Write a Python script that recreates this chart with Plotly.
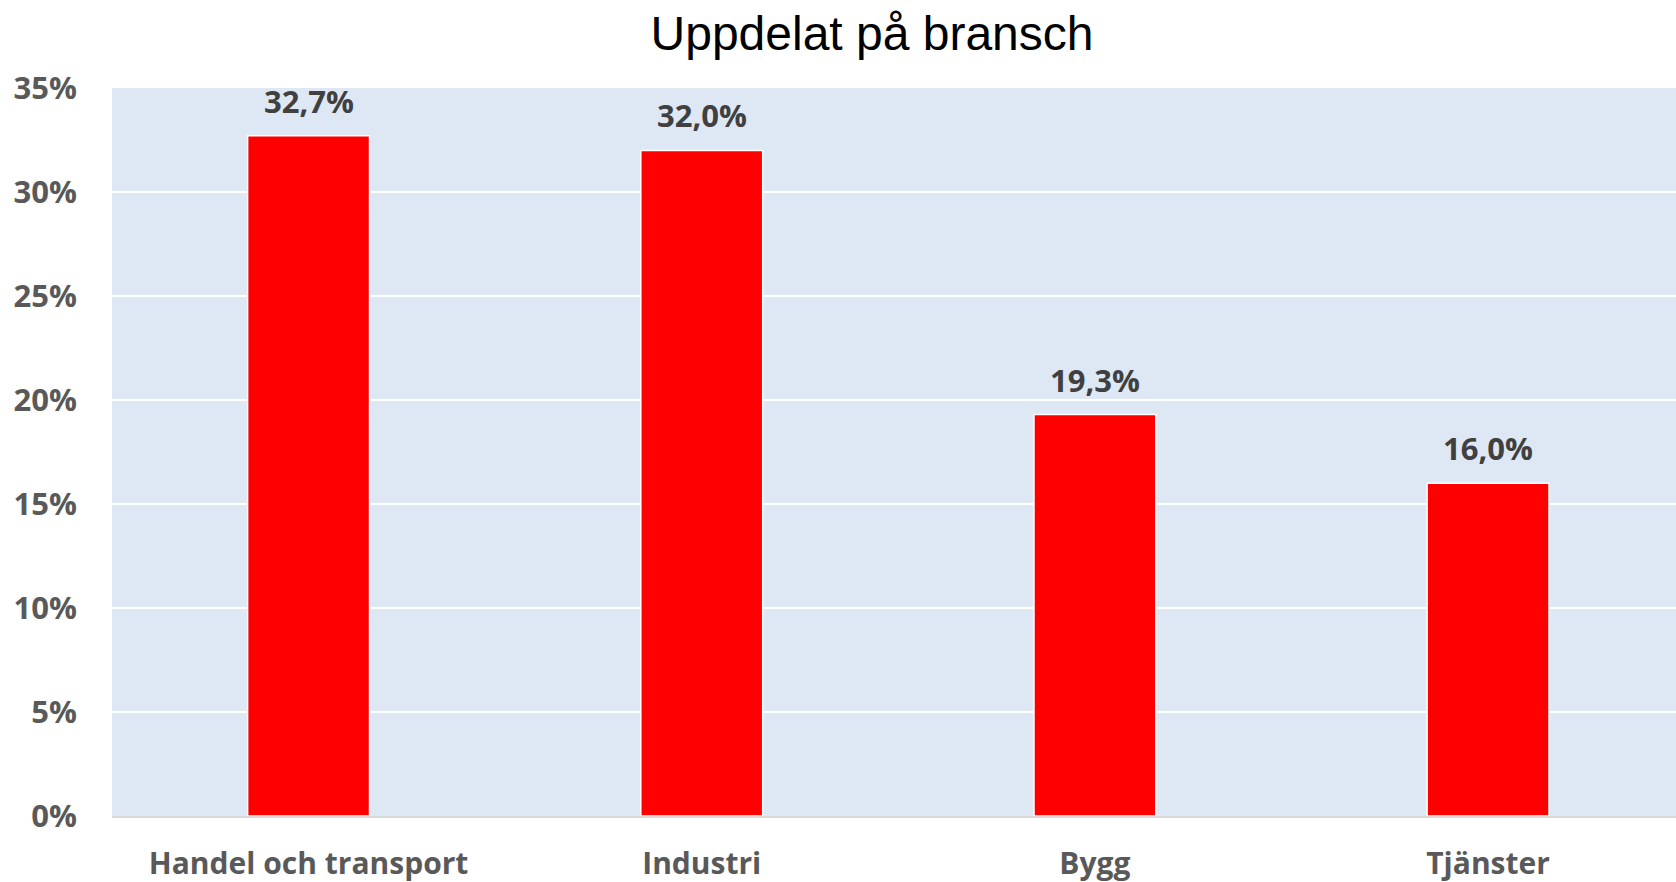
import plotly.graph_objects as go

categories = ["Handel och transport", "Industri", "Bygg", "Tjänster"]
values = [32.7, 32.0, 19.3, 16.0]
value_labels = ["32,7%", "32,0%", "19,3%", "16,0%"]
y_tickvals = [0, 5, 10, 15, 20, 25, 30, 35]
y_ticktext = ["0%", "5%", "10%", "15%", "20%", "25%", "30%", "35%"]
title_text = "Uppdelat på bransch"

fig = go.Figure()
fig.add_trace(go.Bar(
    x=list(range(len(categories))),
    y=values,
    width=0.31,
    marker=dict(color="#FF0000", line=dict(color="#FFFFFF", width=1.5)),
    hoverinfo="skip",
))

for i, (v, lab) in enumerate(zip(values, value_labels)):
    fig.add_annotation(
        x=i, y=v, xref="x", yref="y", text=lab, showarrow=False,
        yanchor="bottom", yshift=12,
        font=dict(family="Open Sans", size=31, color="#404040", weight="bold"),
    )

fig.update_layout(
    width=1676, height=882,
    margin=dict(l=112, r=0, t=88, b=66),
    paper_bgcolor="#FFFFFF",
    plot_bgcolor="#DEE8F4",
    showlegend=False,
    title=dict(
        text=title_text, x=872 / 1676, xanchor="center",
        y=1 - 33 / 882, yanchor="middle",
        font=dict(family="Liberation Sans, Arial", size=48, color="#000000"),
    ),
    xaxis=dict(
        range=[-0.5, 3.478],
        tickmode="array",
        tickvals=list(range(len(categories))),
        ticktext=categories,
        tickfont=dict(family="Open Sans", size=30, color="#595959", weight="bold"),
        showgrid=False, zeroline=False,
        showline=True, linecolor="#D9D9D9", linewidth=2,
        ticks="", ticklabelstandoff=20, automargin=False,
    ),
    yaxis=dict(
        range=[0, 35],
        tickmode="array",
        tickvals=y_tickvals,
        ticktext=y_ticktext,
        tickfont=dict(family="Open Sans", size=31, color="#595959", weight="bold"),
        showgrid=True, gridcolor="#FFFFFF", gridwidth=2,
        zeroline=False, showline=False,
        ticks="", ticklabelstandoff=34, automargin=False,
    ),
)

fig.write_html(
    "out.html",
    config={"displayModeBar": False},
    post_script="document.body.style.margin='0';document.body.style.overflow='hidden';",
)
